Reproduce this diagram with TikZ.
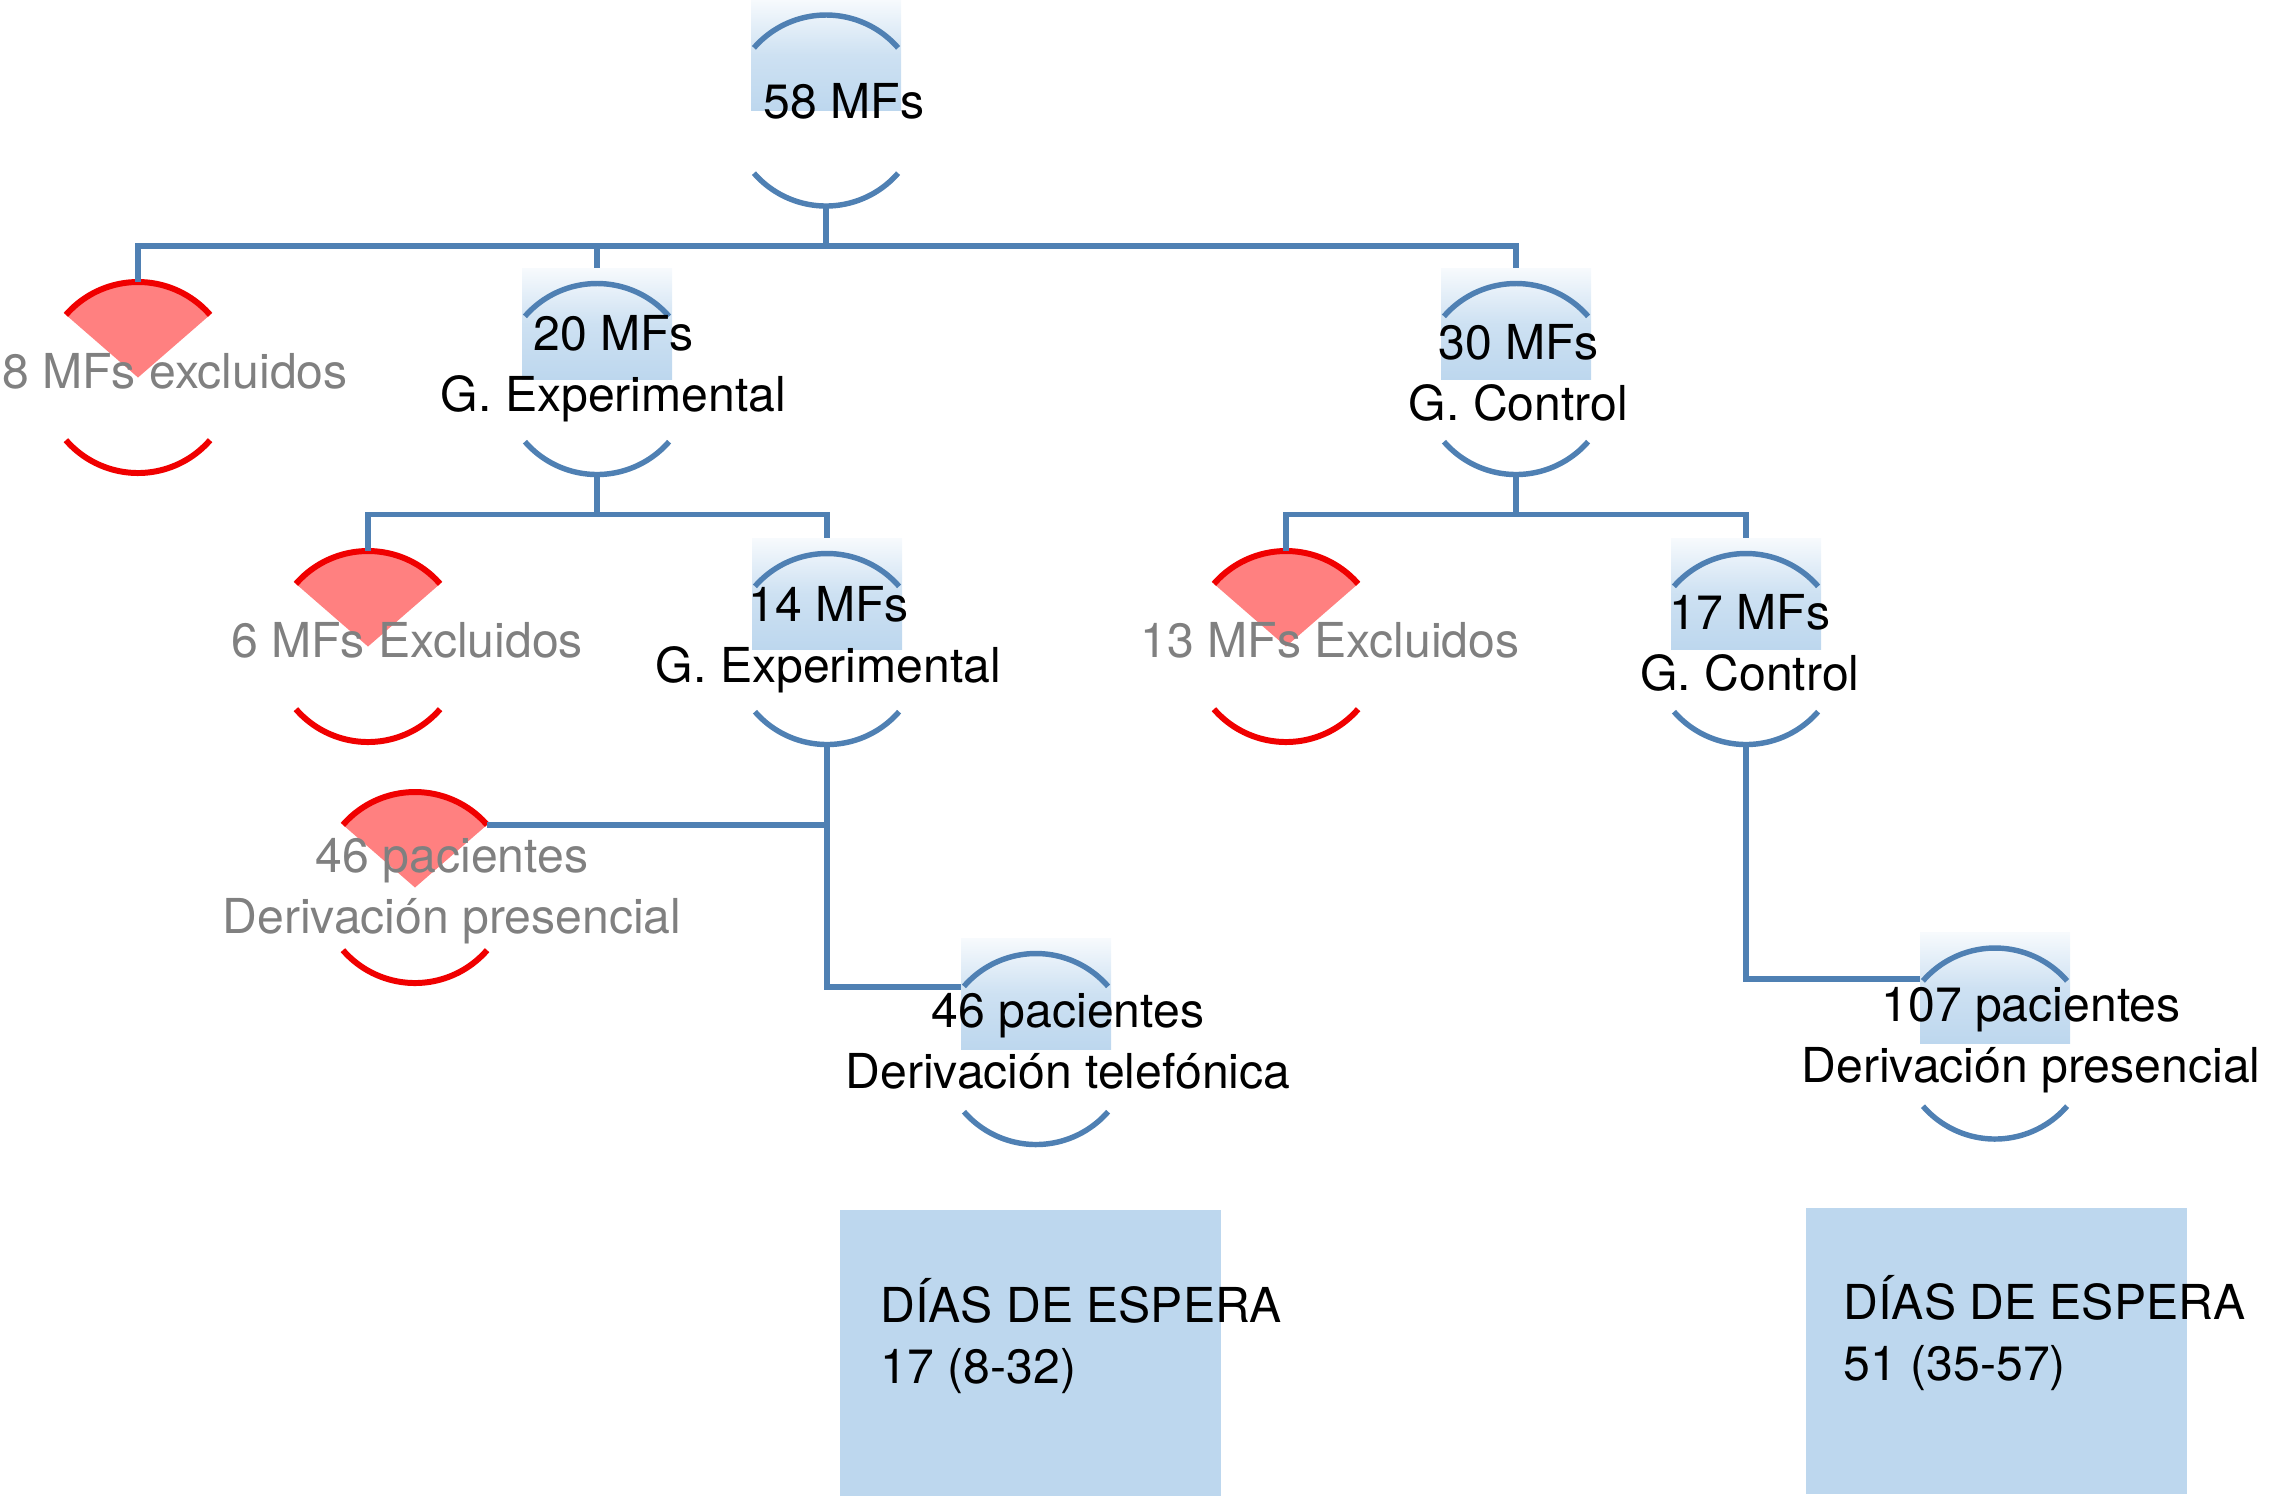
\documentclass[tikz,border=0pt]{standalone}
\usepackage{fontspec}
\setmainfont{TeX Gyre Heros}
\definecolor{azulmf}{HTML}{4F80B3}
\definecolor{rojomf}{HTML}{F00000}
\definecolor{rosamf}{HTML}{FF8080}
\definecolor{celeste}{HTML}{BDD7EE}
\definecolor{grismf}{HTML}{808080}
\tikzset{
  linea/.style={line width=1.55pt, azulmf},
  arcorojo/.style={line width=1.7pt, rojomf},
  degradado/.style={rectangle, inner sep=0pt, outer sep=0pt,
    minimum width=1.5cm, minimum height=1.11cm,
    top color=celeste!12!white, bottom color=celeste, middle color=celeste!75!white},
  anillo/.style={circle, inner sep=0pt, outer sep=0pt, minimum size=1.91cm},
  texto/.style={font=\fontsize{13.7}{17.1}\selectfont, align=center,
    inner sep=0pt, anchor=base},
  excluido/.style={texto, text=grismf},
  dias/.style={rectangle, fill=celeste, inner sep=0pt,
    minimum width=3.81cm, minimum height=2.86cm},
}

\begin{document}
\begin{tikzpicture}
\useasboundingbox (0,0) rectangle (22.70,-14.97);
% fondos
\node[degradado] (g58) at (8.26,-0.55) {};
\node[degradado] (g20) at (5.97,-3.235) {};
\node[degradado] (g30) at (15.16,-3.235) {};
\node[degradado] (g14) at (8.27,-5.935) {};
\node[degradado] (g17) at (17.46,-5.935) {};
\node[degradado] (g46) at (10.36,-9.935) {};
\node[degradado] (g107) at (19.95,-9.88) {};
\node[dias] (d17) at (10.305,-13.53) {};
\node[dias] (d51) at (19.96,-13.505) {};
%
\node[anillo] (c58) at (g58.south) {};
\node[anillo] (c20) at (g20.south) {};
\node[anillo] (c30) at (g30.south) {};
\node[anillo] (c14) at (g14.south) {};
\node[anillo] (c17) at (g17.south) {};
\node[anillo] (c46) at (g46.south) {};
\node[anillo] (c107) at (g107.south) {};
%
\node[anillo] (x8) at (1.38,-3.775) {};
\node[anillo] (x6) at (3.68,-6.465) {};
\node[anillo] (x13) at (12.86,-6.465) {};
\node[anillo] (x46) at (4.15,-8.875) {};
% excluidos
\fill[rosamf] (x8.center) -- (x8.41) arc[start angle=41, end angle=139, radius=0.955] -- cycle;
\fill[rosamf] (x6.center) -- (x6.41) arc[start angle=41, end angle=139, radius=0.955] -- cycle;
\fill[rosamf] (x13.center) -- (x13.41) arc[start angle=41, end angle=139, radius=0.955] -- cycle;
\fill[rosamf] (x46.center) -- (x46.41) arc[start angle=41, end angle=139, radius=0.955] -- cycle;
\draw[arcorojo] (x8.41) arc[start angle=41, end angle=139, radius=0.955];
\draw[arcorojo] (x8.221) arc[start angle=221, end angle=319, radius=0.955];
\draw[arcorojo] (x6.41) arc[start angle=41, end angle=139, radius=0.955];
\draw[arcorojo] (x6.221) arc[start angle=221, end angle=319, radius=0.955];
\draw[arcorojo] (x13.41) arc[start angle=41, end angle=139, radius=0.955];
\draw[arcorojo] (x13.221) arc[start angle=221, end angle=319, radius=0.955];
\draw[arcorojo] (x46.41) arc[start angle=41, end angle=139, radius=0.955];
\draw[arcorojo] (x46.221) arc[start angle=221, end angle=319, radius=0.955];
% grupos
\draw[linea] (c58.41) arc[start angle=41, end angle=139, radius=0.955];
\draw[linea] (c58.221) arc[start angle=221, end angle=319, radius=0.955];
\draw[linea] (c20.41) arc[start angle=41, end angle=139, radius=0.955];
\draw[linea] (c20.221) arc[start angle=221, end angle=319, radius=0.955];
\draw[linea] (c30.41) arc[start angle=41, end angle=139, radius=0.955];
\draw[linea] (c30.221) arc[start angle=221, end angle=319, radius=0.955];
\draw[linea] (c14.41) arc[start angle=41, end angle=139, radius=0.955];
\draw[linea] (c14.221) arc[start angle=221, end angle=319, radius=0.955];
\draw[linea] (c17.41) arc[start angle=41, end angle=139, radius=0.955];
\draw[linea] (c17.221) arc[start angle=221, end angle=319, radius=0.955];
\draw[linea] (c46.41) arc[start angle=41, end angle=139, radius=0.955];
\draw[linea] (c46.221) arc[start angle=221, end angle=319, radius=0.955];
\draw[linea] (c107.41) arc[start angle=41, end angle=139, radius=0.955];
\draw[linea] (c107.221) arc[start angle=221, end angle=319, radius=0.955];
% conectores
\draw[linea] (c58.south) -- ++(0,-0.40) coordinate (b1);
\draw[linea] (b1) -| (x8.north);
\draw[linea] (b1) -| (g20.north);
\draw[linea] (b1) -| (g30.north);
\draw[linea] (c20.south) -- ++(0,-0.40) coordinate (b2);
\draw[linea] (b2) -| (x6.north);
\draw[linea] (b2) -| (g14.north);
\draw[linea] (c30.south) -- ++(0,-0.40) coordinate (b3);
\draw[linea] (b3) -| (x13.north);
\draw[linea] (b3) -| (g17.north);
\draw[linea] (c14.south) |- ([yshift=0.065cm]g46.west);
\draw[linea] (x46.41) -- (x46.41 -| c14.south);
\draw[linea] (c17.south) |- ([yshift=0.09cm]g107.west);
% textos
\node[texto] (t58) at (8.44,-1.18) {58 MFs};
\node[excluido] (t8) at (1.75,-3.88) {8 MFs excluidos};
\node[texto] (t20) at (6.135,-4.11) {20 MFs\\G. Experimental};
\node[texto] (t30) at (15.185,-4.20) {30 MFs\\G. Control};
\node[excluido] (t6) at (4.07,-6.57) {6 MFs Excluidos};
\node[texto] (t14) at (8.285,-6.82) {14 MFs\\G. Experimental};
\node[excluido] (t13) at (13.30,-6.57) {13 MFs Excluidos};
\node[texto] (t17) at (17.50,-6.90) {17 MFs\\G. Control};
\node[excluido] (t46p) at (4.52,-9.33) {46 pacientes\\Derivación presencial};
\node[texto] (t46t) at (10.68,-10.88) {46 pacientes\\Derivación telefónica};
\node[texto] (t107) at (20.31,-10.82) {107 pacientes\\Derivación presencial};
\node[texto, align=left, anchor=base west] (e17) at (8.80,-13.83) {DÍAS DE ESPERA\\17 (8-32)};
\node[texto, align=left, anchor=base west] (e51) at (18.43,-13.80) {DÍAS DE ESPERA\\51 (35-57)};
\end{tikzpicture}
\end{document}
